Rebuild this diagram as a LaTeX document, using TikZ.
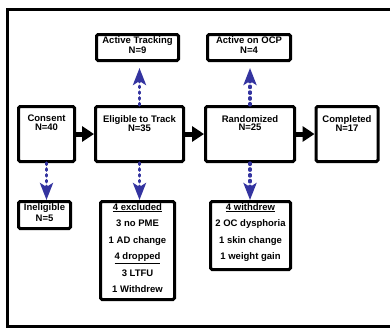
\documentclass[tikz,border=0pt]{standalone}
\usepackage{fontspec}
\setmainfont{Liberation Sans}
\usetikzlibrary{arrows.meta}
\definecolor{arrowblue}{RGB}{52,52,160}
\tikzset{
  box/.style={draw, line width=3pt, rounded corners=1.5pt, inner sep=0pt},
  txt/.style={font=\fontsize{9.5}{#1}\selectfont\bfseries, align=center, inner sep=0pt, anchor=north},
  flow/.style={line width=5pt, -{Triangle[length=12pt,width=15pt]}},
  dotarrow/.style={draw=arrowblue, line width=3.2pt, dash pattern=on 1.5pt off 4.3pt, line cap=round,
    -{Stealth[length=17pt,width=13pt,inset=4pt]}},
}
\begin{document}
\begin{tikzpicture}[x=1pt,y=-1pt]
\useasboundingbox (0,0) rectangle (390,330);
% frame
\draw[line width=3.5pt] (395,9.5) -- (7.5,9.5) -- (7.5,326.5) -- (395,326.5);
% boxes
\node[box, minimum width=82pt, minimum height=26pt] (at) at (137.5,47.5) {};
\node[box, minimum width=83pt, minimum height=26pt] (ao) at (249,47.5) {};
\node[box, minimum width=56pt, minimum height=55pt] (con) at (46.5,134) {};
\node[box, minimum width=88pt, minimum height=55pt] (eli) at (139.5,134) {};
\node[box, minimum width=89pt, minimum height=55pt] (ran) at (250,134) {};
\node[box, minimum width=62pt, minimum height=55pt] (com) at (347,134) {};
\node[box, minimum width=52pt, minimum height=27pt] (ine) at (44.5,215) {};
\node[box, minimum width=74pt, minimum height=98pt] (exc) at (137.5,250.5) {};
\node[box, minimum width=80pt, minimum height=68pt] (wd) at (250.5,235.5) {};
% texts
\node[txt=10] (tat) at ([yshift=-3.5pt]at.north) {Active Tracking\\N=9};
\node[txt=10] (tao) at ([yshift=-3.5pt]ao.north) {Active on OCP\\N=4};
\node[txt=8.5] (tcon) at ([yshift=-10pt]con.north) {Consent\\N=40};
\node[txt=8.5] (teli) at ([yshift=-10pt]eli.north) {Eligible to Track\\N=35};
\node[txt=8.5] (tran) at ([yshift=-10pt]ran.north) {Randomized\\N=25};
\node[txt=8.5] (tcom) at ([yshift=-10pt]com.north) {Completed\\N=17};
\node[txt=11] (tine) at ([yshift=-3pt]ine.north) {Ineligible\\N=5};
\node[txt=16.5] (texc) at ([yshift=-3pt]exc.north) {\underline{4 excluded}\\3 no PME\\1 AD change\\\underline{4 dropped}\\3 LTFU\\1 Withdrew};
\node[txt=16.5] (twd) at ([yshift=-3pt]wd.north) {\underline{4 withdrew}\\2 OC dysphoria\\1 skin change\\1 weight gain};
% flow arrows
\draw[flow] (con.east) -- (eli.west);
\draw[flow] (eli.east) -- (ran.west);
\draw[flow] (ran.east) -- (com.west);
% dotted arrows
\draw[dotarrow, shorten >=6pt] (eli.north) -- (eli.north |- at.south);
\draw[dotarrow, shorten >=6pt] (ran.north) -- (ran.north |- ao.south);
\draw[dotarrow] (con.south) -- (con.south |- ine.north);
\draw[dotarrow] (eli.south) -- (eli.south |- exc.north);
\draw[dotarrow] (ran.south) -- (ran.south |- wd.north);
\end{tikzpicture}
\end{document}
